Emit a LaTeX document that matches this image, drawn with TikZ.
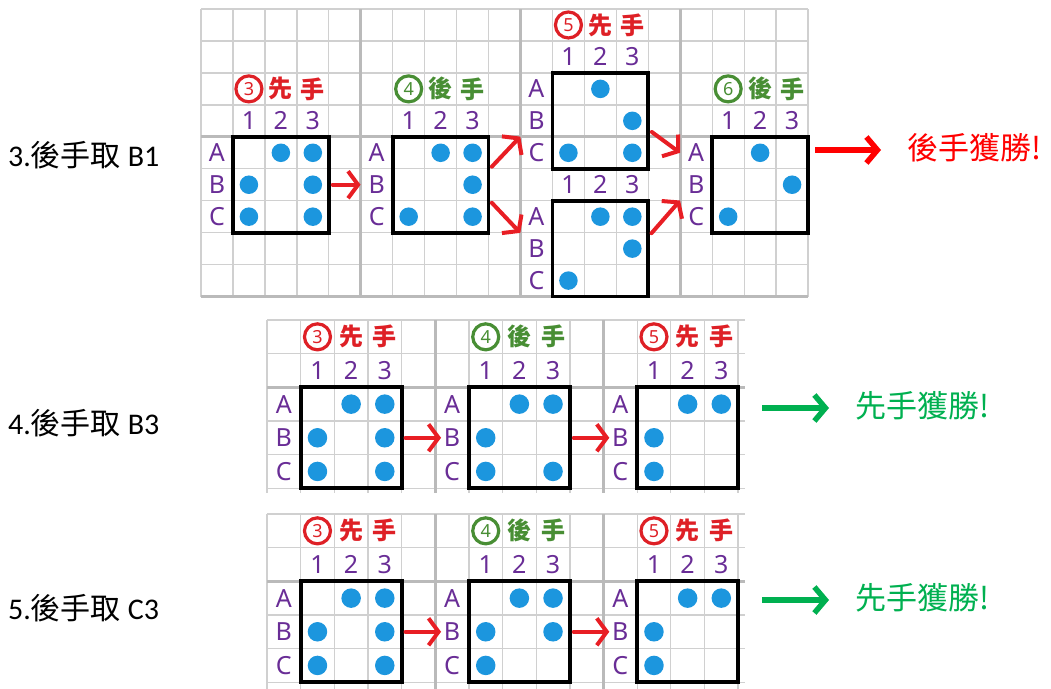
\documentclass[tikz,border=0pt]{standalone}
\usepackage{fontspec}
\setmainfont{Carlito}
\newfontfamily\cjk{Noto Sans CJK TC}
\newfontfamily\hand{Noto Sans}
\usepackage{xcolor}
\usetikzlibrary{arrows.meta, calc, positioning}

\definecolor{gridgray}{RGB}{208,208,208}
\definecolor{gridthick}{RGB}{186,186,186}
\definecolor{stoneblue}{RGB}{28,150,222}
\definecolor{labpurple}{RGB}{105,45,150}
\definecolor{firstred}{RGB}{222,32,38}
\definecolor{secondgreen}{RGB}{72,142,52}
\definecolor{movered}{RGB}{232,30,36}
\definecolor{winred}{RGB}{255,0,0}
\definecolor{wingreen}{RGB}{0,176,80}

\tikzset{
  thin grid/.style={draw=gridgray, line width=1.3pt},
  thick grid/.style={draw=gridthick, line width=3pt},
  board/.style={draw=black, line width=3.8pt, minimum size=3*\cellsz, inner sep=0pt},
  lab/.style={text=labpurple, font=\hand\fontsize{25}{25}\selectfont, minimum size=\cellsz, inner sep=0pt},
  stone/.style={fill=stoneblue},
  numring/.style={draw=#1, text=#1, circle, line width=3.2pt, minimum size=26pt, inner sep=0pt,
    font=\hand\bfseries\fontsize{18}{18}\selectfont},
  turnword/.style={text=#1, font=\cjk\bfseries\fontsize{24}{24}\selectfont, inner sep=0pt},
  movearrow/.style={draw=movered, line width=4pt, line cap=round, shorten <=2pt,
    -{Straight Barb[length=10pt, width=27pt]}},
  result/.style={draw=#1, line width=5.5pt, -{Straight Barb[length=11pt, width=26pt]}},
  caption/.style={anchor=west, font=\fontsize{30}{30}\selectfont, inner sep=0pt},
  verdict/.style={text=#1, anchor=west, font=\cjk\fontsize{31}{31}\selectfont, inner sep=0pt},
}

% header over a board: name, column, row, digit, colour, two characters
\newcommand{\turnhead}[7]{
  \node[numring=#5] (#1-n) at (#2+1.5, #3+0.5) {#4};
  \node[turnword=#5] (#1-w) at (#2+2.5, #3+0.5) {#6};
  \node[turnword=#5] (#1-h) at (#2+3.5, #3+0.5) {#7};
}
% board: name, label column, header row, stones as column/row
\newcommand{\gameboard}[4]{
  \node[board] (#1) at (#2+2.5, #3+3.5) {};
  \node[lab] (#1-1) at (#2+1.5, #3+1.5) {1};
  \node[lab] (#1-2) at (#2+2.5, #3+1.5) {2};
  \node[lab] (#1-3) at (#2+3.5, #3+1.5) {3};
  \node[lab] (#1-A) at (#2+0.5, #3+2.5) {A};
  \node[lab] (#1-B) at (#2+0.5, #3+3.5) {B};
  \node[lab] (#1-C) at (#2+0.5, #3+4.5) {C};
  \foreach \c/\r in {#4}
    \fill[stone] (#2+\c+0.5, #3+\r+1.5) circle[radius=0.29];
}

\begin{document}
\begin{tikzpicture}[x=1pt, y=-1pt]
  \useasboundingbox (0,0) rectangle (1051,688);

  % case 3
  \node[caption] (cap3) at (8,155) {3.{\cjk 後手取} B1};
  \begin{scope}[shift={(201,9)}, x=31.95pt, y=-31.95pt]
    \def\cellsz{31.95pt}
    \foreach \gx in {0,...,19} \draw[thin grid] (\gx,0) -- (\gx,9);
    \foreach \gy in {0,...,9} \draw[thin grid] (0,\gy) -- (19,\gy);
    \foreach \gx in {5,10,15} \draw[thick grid] (\gx,0) -- (\gx,9);
    \foreach \gy in {4,9} \draw[thick grid] (0,\gy) -- (19,\gy);

    \turnhead{t1}{0}{2}{3}{firstred}{先}{手}
    \gameboard{t1}{0}{2}{2/1,3/1,1/2,3/2,1/3,3/3}
    \turnhead{t2}{5}{2}{4}{secondgreen}{後}{手}
    \gameboard{t2}{5}{2}{2/1,3/1,3/2,1/3,3/3}
    \turnhead{t3a}{10}{0}{5}{firstred}{先}{手}
    \gameboard{t3a}{10}{0}{2/1,3/2,1/3,3/3}
    \gameboard{t3b}{10}{4}{2/1,3/1,3/2,1/3}
    \turnhead{t4}{15}{2}{6}{secondgreen}{後}{手}
    \gameboard{t4}{15}{2}{2/1,3/2,1/3}

    \draw[movearrow] (t1.east) -- (t2-B.west);
    \draw[movearrow] ($(t2.north east)!1/3!(t2.south east)$) -- (t3a-C.north west);
    \draw[movearrow] ($(t2.north east)!2/3!(t2.south east)$) -- (t3b-A.south west);
    \draw[movearrow] ($(t3a.north east)!0.6!(t3a.south east)$) -- (t4-A.west);
    \draw[movearrow] ($(t3b.north east)!0.36!(t3b.south east)$) -- (t4-C.north west);
  \end{scope}
  \node[verdict=winred] (v3) at (907,148) {後手獲勝!};
  \coordinate (v3-tail) at (815,150);
  \draw[result=winred, shorten >=26pt] (v3-tail) -- (v3-tail -| v3.west);

  % case 4
  \node[caption] (cap4) at (8,423) {4.{\cjk 後手取} B3};
  \begin{scope}[shift={(267,320)}, x=33.65pt, y=-33.65pt]
    \def\cellsz{33.65pt}
    \foreach \gx in {0,...,14} \draw[thin grid] (\gx,0) -- (\gx,5.15);
    \foreach \gy in {0,...,5} \draw[thin grid] (0,\gy) -- (14.2,\gy);
    \foreach \gx in {5,10} \draw[thick grid] (\gx,0) -- (\gx,5.15);
    \draw[thick grid] (0,2) -- (14.2,2);

    \turnhead{m1}{0}{0}{3}{firstred}{先}{手}
    \gameboard{m1}{0}{0}{2/1,3/1,1/2,3/2,1/3,3/3}
    \turnhead{m2}{5}{0}{4}{secondgreen}{後}{手}
    \gameboard{m2}{5}{0}{2/1,3/1,1/2,1/3,3/3}
    \turnhead{m3}{10}{0}{5}{firstred}{先}{手}
    \gameboard{m3}{10}{0}{2/1,3/1,1/2,1/3}

    \draw[movearrow, shorten >=-6pt] (m1.east) -- (m2-B.west);
    \draw[movearrow, shorten >=-6pt] (m2.east) -- (m3-B.west);
  \end{scope}
  \node[verdict=wingreen] (v4) at (855,406) {先手獲勝!};
  \coordinate (v4-tail) at (762,408);
  \draw[result=wingreen, shorten >=26pt] (v4-tail) -- (v4-tail -| v4.west);

  % case 5
  \node[caption] (cap5) at (8,608) {5.{\cjk 後手取} C3};
  \begin{scope}[shift={(267,514)}, x=33.65pt, y=-33.65pt]
    \def\cellsz{33.65pt}
    \foreach \gx in {0,...,14} \draw[thin grid] (\gx,0) -- (\gx,5.2);
    \foreach \gy in {0,...,5} \draw[thin grid] (0,\gy) -- (14.2,\gy);
    \foreach \gx in {5,10} \draw[thick grid] (\gx,0) -- (\gx,5.2);
    \draw[thick grid] (0,2) -- (14.2,2);

    \turnhead{b1}{0}{0}{3}{firstred}{先}{手}
    \gameboard{b1}{0}{0}{2/1,3/1,1/2,3/2,1/3,3/3}
    \turnhead{b2}{5}{0}{4}{secondgreen}{後}{手}
    \gameboard{b2}{5}{0}{2/1,3/1,1/2,3/2,1/3}
    \turnhead{b3}{10}{0}{5}{firstred}{先}{手}
    \gameboard{b3}{10}{0}{2/1,3/1,1/2,1/3}

    \draw[movearrow, shorten >=-6pt] (b1.east) -- (b2-B.west);
    \draw[movearrow, shorten >=-6pt] (b2.east) -- (b3-B.west);
  \end{scope}
  \node[verdict=wingreen] (v5) at (855,598) {先手獲勝!};
  \coordinate (v5-tail) at (762,600);
  \draw[result=wingreen, shorten >=26pt] (v5-tail) -- (v5-tail -| v5.west);
\end{tikzpicture}
\end{document}
